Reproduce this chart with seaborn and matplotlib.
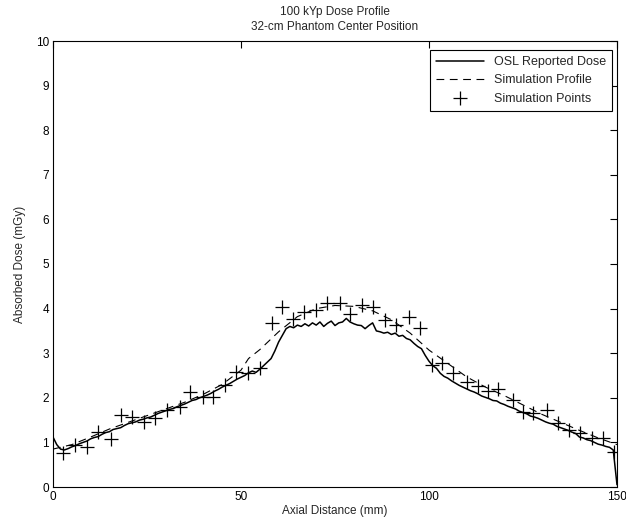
import matplotlib
matplotlib.use("Agg")
import matplotlib.pyplot as plt
import seaborn as sns
import numpy as np

# OSL reported dose, 1 mm steps from 0 to 150 mm
osl_x = np.arange(0, 151, 1)
osl_dose = [
    1.12, 0.95, 0.85, 0.83, 0.86, 0.90, 0.93, 0.97, 1.00, 1.03,
    1.08, 1.11, 1.13, 1.18, 1.22, 1.24, 1.29, 1.31, 1.33, 1.38,
    1.42, 1.44, 1.46, 1.50, 1.52, 1.55, 1.57, 1.61, 1.65, 1.68,
    1.71, 1.74, 1.76, 1.80, 1.83, 1.86, 1.90, 1.94, 1.96, 2.00,
    2.03, 2.06, 2.10, 2.15, 2.19, 2.24, 2.28, 2.32, 2.37, 2.42,
    2.46, 2.50, 2.56, 2.60, 2.57, 2.64, 2.72, 2.80, 2.88, 3.05,
    3.25, 3.40, 3.55, 3.60, 3.57, 3.63, 3.60, 3.66, 3.61, 3.68,
    3.63, 3.70, 3.60, 3.67, 3.72, 3.62, 3.68, 3.70, 3.78, 3.70,
    3.66, 3.63, 3.62, 3.55, 3.62, 3.68, 3.50, 3.48, 3.45, 3.47,
    3.42, 3.45, 3.38, 3.40, 3.33, 3.30, 3.22, 3.15, 3.10, 2.95,
    2.82, 2.72, 2.66, 2.55, 2.48, 2.44, 2.38, 2.33, 2.28, 2.24,
    2.20, 2.16, 2.13, 2.09, 2.04, 2.01, 1.98, 1.94, 1.93, 1.88,
    1.85, 1.81, 1.78, 1.75, 1.70, 1.67, 1.64, 1.59, 1.57, 1.54,
    1.50, 1.46, 1.43, 1.41, 1.36, 1.33, 1.30, 1.27, 1.23, 1.20,
    1.12, 1.10, 1.06, 1.04, 1.00, 0.96, 0.94, 0.91, 0.89, 0.83,
    0.05,
]

# simulation profile (dashed)
sim_x = [0, 5, 10, 15, 20, 25, 30, 35, 40, 45, 50, 52, 55, 60, 65, 70, 75,
         80, 85, 90, 95, 100, 105, 110, 115, 120, 125, 130, 135, 140, 145, 150]
sim_dose = [0.85, 0.95, 1.12, 1.30, 1.45, 1.60, 1.75, 1.90, 2.08, 2.30, 2.62,
            2.88, 3.08, 3.48, 3.82, 4.00, 4.07, 4.05, 3.95, 3.75, 3.45, 3.07,
            2.77, 2.47, 2.24, 2.05, 1.84, 1.63, 1.45, 1.27, 1.10, 0.95]

# simulation points (+)
pts_x = [2.7, 5.9, 9.0, 12.0, 15.4, 18.1, 21.0, 24.2, 27.1, 30.3, 33.8, 36.4,
         39.9, 42.6, 45.7, 48.7, 51.9, 55.0, 58.2, 60.9, 63.8, 66.8, 69.9,
         72.9, 76.3, 79.0, 82.2, 85.1, 88.3, 91.2, 94.7, 97.6, 100.8, 103.5,
         106.4, 110.1, 113.0, 115.7, 118.4, 122.3, 125.0, 127.7, 131.4, 134.3,
         137.2, 140.2, 143.4, 146.3, 149.2]
pts_dose = [0.76, 0.94, 0.90, 1.23, 1.08, 1.61, 1.57, 1.46, 1.55, 1.73, 1.79,
            2.13, 2.02, 2.02, 2.29, 2.58, 2.56, 2.67, 3.68, 4.04, 3.77, 3.92,
            3.97, 4.13, 4.13, 3.88, 4.08, 4.04, 3.75, 3.63, 3.81, 3.56, 2.74,
            2.78, 2.56, 2.35, 2.26, 2.15, 2.20, 1.95, 1.68, 1.66, 1.73, 1.44,
            1.28, 1.21, 1.10, 1.10, 0.78]

sns.set_theme(style="white")
plt.rcParams['font.family'] = ['Liberation Sans', 'DejaVu Sans']

fig = plt.figure(figsize=(6.26, 5.27), dpi=100)
ax = fig.add_axes([53 / 626, 1 - 487 / 527, 564 / 626, 446 / 527])

sns.lineplot(x=osl_x, y=osl_dose, ax=ax, color="black", linewidth=1.1,
             label="OSL Reported Dose")
sns.lineplot(x=sim_x, y=sim_dose, ax=ax, color="black", linewidth=0.8,
             linestyle=(0, (7, 5)), label="Simulation Profile")
sns.scatterplot(x=pts_x, y=pts_dose, ax=ax, color="black", marker="+", s=110,
                linewidth=0.9, label="Simulation Points")

ax.set_xlim(0, 150)
ax.set_ylim(0, 10)
ax.set_xticks([0, 50, 100, 150])
ax.set_yticks(range(0, 11))
ax.tick_params(direction="in", length=5, width=0.8, top=True, right=True,
               labelsize=8.5, colors="black", pad=3)
for s in ax.spines.values():
    s.set_color("black")
    s.set_linewidth(0.8)

ax.set_xlabel("Axial Distance (mm)", fontsize=8.5, labelpad=1)
ax.set_ylabel("Absorbed Dose (mGy)", fontsize=8.5, labelpad=7)
ax.set_title("100 kYp Dose Profile\n32-cm Phantom Center Position",
             fontsize=8.5, pad=8, linespacing=1.35)

leg = ax.legend(loc="upper right", bbox_to_anchor=(0.991, 0.980),
                borderaxespad=0, fontsize=9, frameon=True, fancybox=False,
                edgecolor="black", framealpha=1, handlelength=3.8,
                labelspacing=0.5, borderpad=0.5, handletextpad=0.8)
leg.get_frame().set_linewidth(0.8)

fig.savefig("out.png", dpi=100)
